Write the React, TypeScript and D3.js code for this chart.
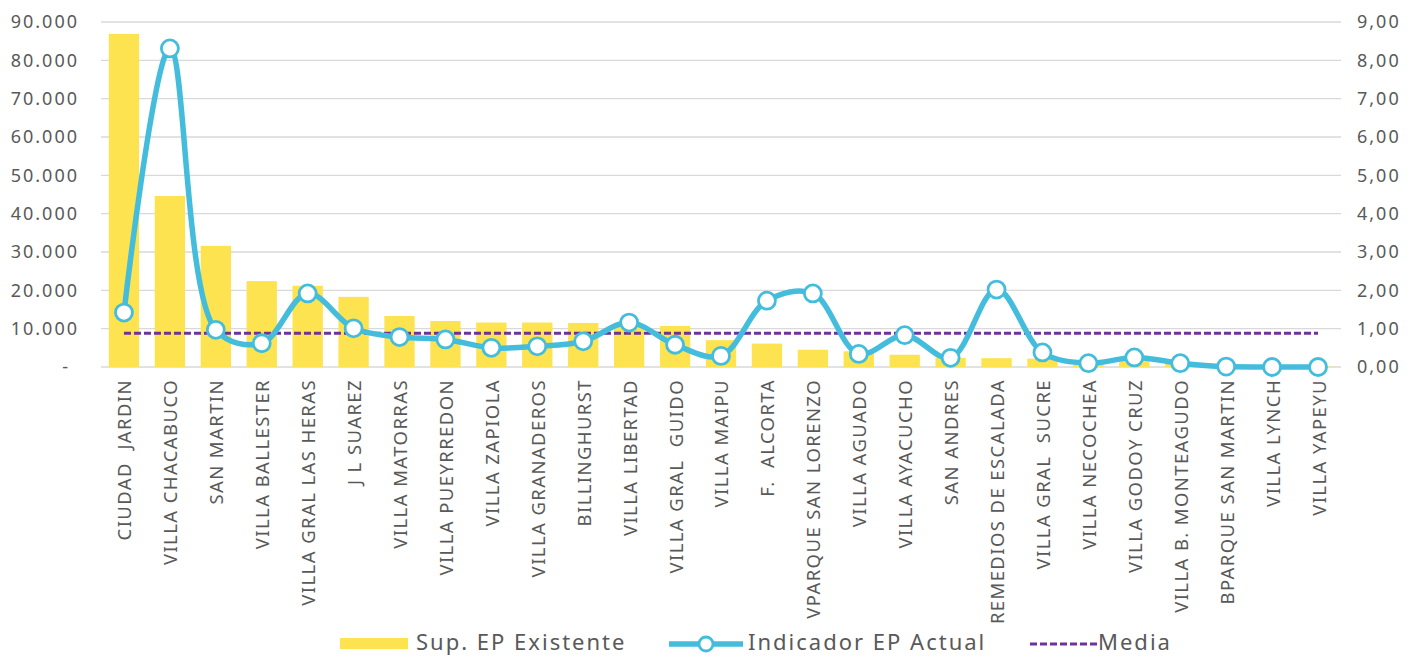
import React from "react";
import * as d3 from "d3";

const categories = [
  "CIUDAD  JARDIN", "VILLA CHACABUCO", "SAN MARTIN", "VILLA BALLESTER", "VILLA GRAL LAS HERAS",
  "J L SUAREZ", "VILLA MATORRAS", "VILLA PUEYRREDON", "VILLA ZAPIOLA", "VILLA GRANADEROS",
  "BILLINGHURST", "VILLA LIBERTAD", "VILLA GRAL  GUIDO", "VILLA MAIPU", "F.  ALCORTA",
  "VPARQUE SAN LORENZO", "VILLA AGUADO", "VILLA AYACUCHO", "SAN ANDRES", "REMEDIOS DE ESCALADA",
  "VILLA GRAL  SUCRE", "VILLA NECOCHEA", "VILLA GODOY CRUZ", "VILLA B. MONTEAGUDO", "BPARQUE SAN MARTIN",
  "VILLA LYNCH", "VILLA YAPEYU",
];

const supExistente = [
  86900, 44600, 31600, 22400, 21200, 18300, 13300, 12000, 11600, 11600,
  11500, 11000, 10700, 7000, 6100, 4500, 4100, 3200, 2400, 2300,
  2200, 1800, 2000, 800, 300, 200, 100,
];

const indicadorActual = [
  1.42, 8.31, 0.97, 0.62, 1.92, 1.01, 0.78, 0.72, 0.5, 0.54,
  0.67, 1.16, 0.58, 0.29, 1.73, 1.92, 0.34, 0.83, 0.24, 2.02,
  0.38, 0.1, 0.25, 0.1, 0.01, 0.0, 0.0,
];

const mediaValue = 0.88;

const leftTicks = [0, 10000, 20000, 30000, 40000, 50000, 60000, 70000, 80000, 90000];
const rightTicks = [0, 1, 2, 3, 4, 5, 6, 7, 8, 9];

const legendLabels = ["Sup. EP Existente", "Indicador EP Actual", "Media"];

const BAR = "#FDE34F";
const LINE = "#44BDDD";
const MEDIA = "#7030A0";
const GRID = "#D9D9D9";
const TEXT = "#595959";
const FONT = "'Noto Sans', sans-serif";

export default function App() {
  const W = 1419, H = 657;
  const x0 = 101, x1 = 1341, yTop = 22, yBot = 367;

  const x = d3.scaleBand<string>().domain(categories).range([x0, x1]).paddingInner(0.34).paddingOuter(0.17);
  const step = (x1 - x0) / categories.length;
  const cx = (c: string) => x0 + step * (categories.indexOf(c) + 0.5);
  const yL = d3.scaleLinear().domain([0, 90000]).range([yBot, yTop]);
  const yR = d3.scaleLinear().domain([0, 9]).range([yBot, yTop]);

  const fmtL = (v: number) => (v === 0 ? "-" : d3.format(",")(v).replace(/,/g, "."));
  const fmtR = (v: number) => v.toFixed(2).replace(".", ",");

  const pts: [number, number][] = categories.map((c, i) => [cx(c), yR(indicadorActual[i])]);
  const linePath = d3.line().curve(d3.curveCatmullRom.alpha(0.5))(pts) || "";

  const legY = 642;

  return (
    <svg width={W} height={H} style={{ position: "absolute", left: 0, top: 0, background: "#fff" }} fontFamily={FONT}>
      {/* gridlines */}
      {leftTicks.map((t) => (
        <line key={"g" + t} x1={x0} x2={x1} y1={yL(t)} y2={yL(t)} stroke={GRID} strokeWidth={1.3} />
      ))}
      {/* left ticks */}
      {leftTicks.map((t) => (
        <text key={"l" + t} x={t === 0 ? 68 : 79} y={yL(t)} dy="0.35em" textAnchor="end" fontSize={18}
          letterSpacing={t === 0 ? 0 : 2} fill={TEXT}>{fmtL(t)}</text>
      ))}
      {/* right ticks */}
      {rightTicks.map((t) => (
        <text key={"r" + t} x={1357} y={yR(t)} dy="0.35em" textAnchor="start" fontSize={18}
          letterSpacing={2} fill={TEXT}>{fmtR(t)}</text>
      ))}
      {/* bars */}
      {categories.map((c, i) => (
        <rect key={"b" + c} x={x(c)} y={yL(supExistente[i])} width={x.bandwidth()}
          height={yBot - yL(supExistente[i])} fill={BAR} />
      ))}
      {/* media */}
      <line x1={cx(categories[0])} x2={cx(categories[categories.length - 1])} y1={yR(mediaValue)} y2={yR(mediaValue)}
        stroke={MEDIA} strokeWidth={2.8} strokeDasharray="7 3" />
      {/* indicator line */}
      <path d={linePath} fill="none" stroke={LINE} strokeWidth={5.5} strokeLinejoin="round" />
      {pts.map((p, i) => (
        <circle key={"m" + i} cx={p[0]} cy={p[1]} r={8.5} fill="#fff" stroke={LINE} strokeWidth={2.8} />
      ))}
      {/* x labels */}
      {categories.map((c) => (
        <text key={"x" + c} transform={`translate(${cx(c) + 1},379) rotate(-90)`} textAnchor="end" dy="0.35em"
          fontSize={18.5} letterSpacing={1.4} fill={TEXT} style={{ whiteSpace: "pre" }}>{c}</text>
      ))}
      {/* legend */}
      <rect x={340} y={638} width={68} height={11} fill={BAR} />
      <text x={416} y={legY} dy="0.35em" fontSize={22} letterSpacing={2} fill={TEXT}>{legendLabels[0]}</text>
      <line x1={669} x2={743} y1={644} y2={644} stroke={LINE} strokeWidth={5.5} />
      <circle cx={706} cy={644} r={7} fill="#fff" stroke={LINE} strokeWidth={2.8} />
      <text x={748} y={legY} dy="0.35em" fontSize={22} letterSpacing={2} fill={TEXT}>{legendLabels[1]}</text>
      <line x1={1030} x2={1098} y1={644} y2={644} stroke={MEDIA} strokeWidth={2.8} strokeDasharray="7 3" />
      <text x={1098} y={legY} dy="0.35em" fontSize={22} letterSpacing={2} fill={TEXT}>{legendLabels[2]}</text>
    </svg>
  );
}
